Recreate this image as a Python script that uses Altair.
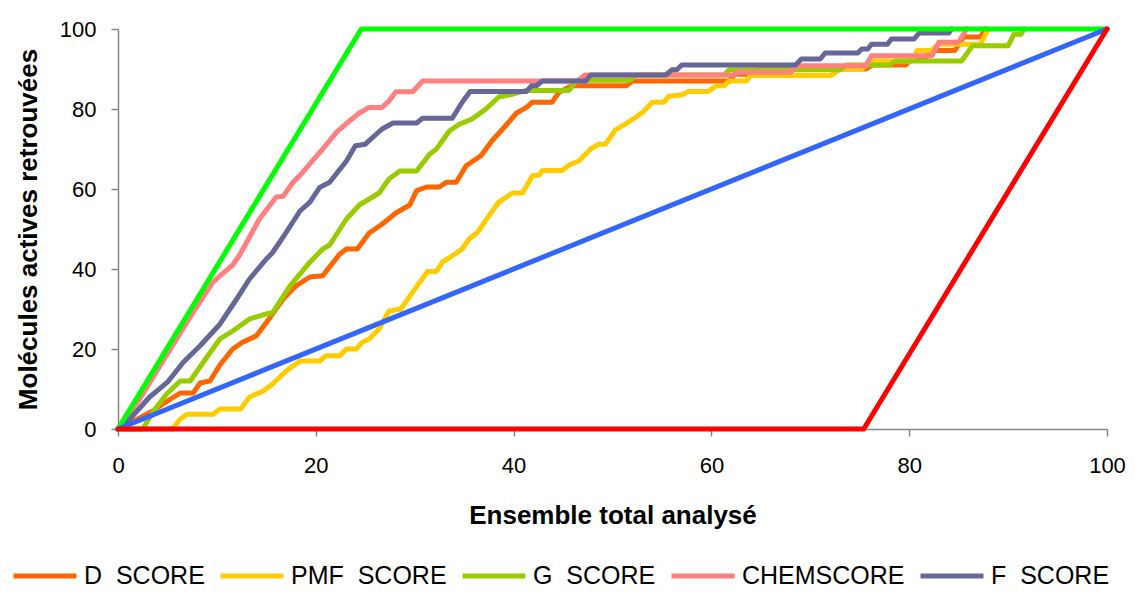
import altair as alt
import pandas as pd

# ---------------- data ----------------
SERIES = ["D\u00a0 SCORE", "PMF\u00a0 SCORE", "G\u00a0 SCORE", "CHEMSCORE", "F\u00a0 SCORE"]
COLORS = ["#FF6600", "#FFCC00", "#99CC00", "#FF8080", "#666699"]

D_SCORE = [(0, 0), (2, 2.5), (3.5, 4.5), (5, 7), (6.3, 9), (7.6, 9), (8.3, 11.5), (9.3, 12),
           (10.3, 16), (11.6, 20), (12.6, 21.7), (14, 23.3), (15, 26.6), (16.7, 32.5), (18, 35.8),
           (19.4, 38), (20.7, 38.3), (22.4, 43.7), (23.1, 45), (24.2, 45), (25.4, 49), (26.7, 51.2),
           (28.1, 54), (29.5, 56), (30.2, 59.6), (31.2, 60.5), (32.5, 60.5), (33.2, 61.7), (34.2, 61.7),
           (35.2, 65.8), (36.7, 68.3), (37.8, 72), (38.9, 75), (40.3, 79), (41.3, 80.4), (41.9, 81.7),
           (43.9, 81.7), (44.6, 84.2), (45.9, 85.8), (51.4, 85.8), (52, 87), (61.8, 87), (62.4, 88.7),
           (64, 88.7), (64.6, 90), (75.6, 90), (76.3, 91), (79.6, 91), (80.3, 92.5), (81.6, 92.5),
           (82.1, 94.6), (84.6, 94.6), (85.5, 98), (87.2, 98), (87.7, 100)]

PMF_SCORE = [(0, 0), (5.5, 0), (6.3, 2.5), (7, 3.7), (9.6, 3.7), (10.3, 5), (12.4, 5), (13.3, 8),
             (14.7, 9.5), (15.6, 11.2), (17, 14.5), (18.4, 17), (20.4, 17), (21, 18.3), (22.4, 18.3),
             (23.1, 20), (24.1, 20), (24.7, 21.7), (25.4, 22.5), (26.4, 25), (27.4, 29.5), (28.6, 30),
             (30.2, 35.6), (31.3, 39.4), (32.2, 39.4), (32.8, 41.7), (33.8, 43.3), (34.8, 45),
             (35.5, 47.5), (36.3, 49), (37.5, 53.3), (38.5, 56.7), (39.9, 59), (40.9, 59), (41.9, 63.3),
             (42.6, 63.5), (42.9, 64.6), (44.9, 64.6), (45.6, 66), (46.6, 67), (47.8, 70), (48.6, 71.2),
             (49.3, 71.2), (50.3, 74.8), (51.4, 76.4), (52.4, 78), (53.2, 79.5), (54, 81.7), (55.2, 81.7),
             (55.7, 83.2), (57, 83.5), (57.7, 84.4), (59.7, 84.4), (60.5, 85.8), (61.3, 85.8), (61.8, 87),
             (63.5, 87), (64, 88.4), (72.1, 88.4), (73, 90), (75.2, 90), (76.3, 92), (80.3, 92),
             (80.8, 94.6), (82.2, 94.6), (83, 96.2), (87.2, 96.2), (88, 100)]

G_SCORE = [(0, 0), (2.5, 0), (3.6, 4.5), (5, 9), (6.3, 12), (7.3, 12), (9, 18), (10.3, 22.5),
           (11.6, 24.5), (13.3, 27.5), (15, 28.8), (15.6, 29), (17.4, 35.8), (19.4, 41.7), (20.7, 45),
           (21.4, 46), (23.1, 52.5), (24.4, 56), (26.4, 59), (27.4, 62.5), (28.5, 64.5), (30.2, 64.5),
           (31.5, 68.7), (32.2, 70), (33.5, 74.5), (34.5, 76.2), (35.8, 77.5), (37.2, 80), (38.5, 83),
           (39.9, 83.7), (41.2, 84.6), (45.6, 84.6), (46.4, 87.2), (51.8, 87.2), (52.4, 88.5),
           (61.3, 88.5), (61.8, 89.8), (73, 89.8), (73.6, 91), (78, 91), (78.6, 92), (85.3, 92),
           (86.4, 95.8), (90, 95.8), (90.6, 98.7), (91.3, 98.7), (91.6, 100)]

CHEMSCORE = [(0, 0), (2.2, 7.5), (4.8, 18), (7.3, 28), (9.6, 36.7), (10.3, 38.3), (11.6, 41),
             (12.3, 43.5), (14.3, 52.5), (16, 58), (16.7, 58.2), (17.7, 61.7), (18.4, 63.4),
             (19.4, 66.3), (20.7, 70), (22.1, 74.2), (23.4, 77), (24.4, 79), (25.4, 80.4), (26.7, 80.4),
             (27.4, 82), (28.1, 84.3), (29.8, 84.3), (30.8, 87), (46.5, 87), (47.2, 88.5), (62.2, 88.5),
             (62.7, 89.2), (68, 89.2), (68.6, 90.8), (75.6, 90.8), (76.2, 93.3), (82.3, 93.3),
             (83, 96.7), (85, 96.7), (85.8, 100)]

F_SCORE = [(0, 0), (1.2, 2.5), (3.2, 8), (5, 11.7), (6.6, 16.7), (8.3, 20.8), (10.3, 26.2), (12, 32.5),
           (13.3, 37.5), (15, 42.5), (15.6, 44), (16.7, 48), (18.4, 54.5), (19.4, 56.7), (20.4, 60.4),
           (21.4, 61.7), (23.1, 67), (24, 70.8), (25, 71.2), (26.7, 75), (27.8, 76.5), (30.2, 76.5),
           (30.8, 77.7), (33.8, 77.7), (34.8, 81.7), (35.6, 84.4), (41.3, 84.4), (41.8, 85.8),
           (42.3, 85.8), (42.9, 87), (47.3, 87), (47.8, 88.5), (55.4, 88.5), (56, 89.8), (56.5, 89.8),
           (57, 91), (68.5, 91), (69.1, 92.5), (71, 92.5), (71.5, 94), (74.8, 94), (75.2, 95),
           (75.8, 95), (76.2, 96.2), (77.8, 96.2), (78.2, 97.5), (80.5, 97.5), (81, 99), (84, 99),
           (84.3, 100)]

IDEAL = [(0, 0), (24.6, 100), (100, 100)]
RANDOM = [(0, 0), (100, 100)]
WORST = [(0, 0), (75.4, 0), (100, 100)]
REF_COLORS = ["#00FF00", "#3366FF", "#FF0000"]

TICKS = [0, 20, 40, 60, 80, 100]

# ---------------- tables ----------------
rows = []
for k, (name, pts) in enumerate(zip(SERIES, [D_SCORE, PMF_SCORE, G_SCORE, CHEMSCORE, F_SCORE])):
    for i, (x, y) in enumerate(pts):
        rows.append({"k": k, "series": name, "i": i, "x": x, "y": y})
df = pd.DataFrame(rows)

ref_rows = []
for k, pts in enumerate([IDEAL, RANDOM, WORST]):
    for i, (x, y) in enumerate(pts):
        ref_rows.append({"k": k, "i": i, "x": x, "y": y})
df_ref = pd.DataFrame(ref_rows)

FONT = "Liberation Sans"
LW = 5

x_enc = alt.X("x:Q", scale=alt.Scale(domain=[0, 100], nice=False),
              axis=alt.Axis(values=TICKS, labelPadding=19, labelFlush=False,
                            titleY=94, titleBaseline="alphabetic"),
              title="Ensemble total analysé")
y_enc = alt.Y("y:Q", scale=alt.Scale(domain=[0, 100], nice=False),
              axis=alt.Axis(values=TICKS, labelPadding=15,
                            titleX=-82, titleBaseline="alphabetic"),
              title="Molécules actives retrouvées")

legend = alt.Legend(title=None, orient="none", legendX=-107, legendY=513,
                    direction="horizontal", columns=5, symbolType="stroke",
                    symbolSize=3969, symbolStrokeWidth=5, labelFont=FONT,
                    labelFontSize=25, labelColor="black", labelOffset=5,
                    columnPadding=5, padding=0, labelLimit=400)

layers = []
for k, name in enumerate(SERIES):
    layers.append(
        alt.Chart(df).transform_filter(alt.datum.k == k)
        .mark_line(strokeWidth=LW, strokeJoin="round", strokeCap="round")
        .encode(x=x_enc, y=y_enc,
                color=alt.Color("series:N", scale=alt.Scale(domain=SERIES, range=COLORS),
                                legend=legend),
                order=alt.Order("i:Q"))
    )
for k, col in enumerate(REF_COLORS):
    layers.append(
        alt.Chart(df_ref).transform_filter(alt.datum.k == k)
        .mark_line(strokeWidth=LW, strokeJoin="round", strokeCap="round", color=col)
        .encode(x=x_enc, y=y_enc, order=alt.Order("i:Q"))
    )

chart = (
    alt.layer(*layers)
    .properties(width=989, height=400,
                autosize=alt.AutoSizeParams(type="none"),
                padding={"left": 110, "top": 21, "right": 20, "bottom": 159})
    .configure_view(stroke=None)
    .configure_axis(grid=False, labelFont=FONT, labelFontSize=22, labelColor="black",
                    domainColor="#868686", tickColor="#868686", domainWidth=1.5,
                    tickWidth=1.5, tickSize=7, titleFont=FONT, titleFontSize=26,
                    titleFontWeight="bold", titleColor="black")
)

chart.save("out.html", embed_options={"renderer": "svg", "actions": False})
